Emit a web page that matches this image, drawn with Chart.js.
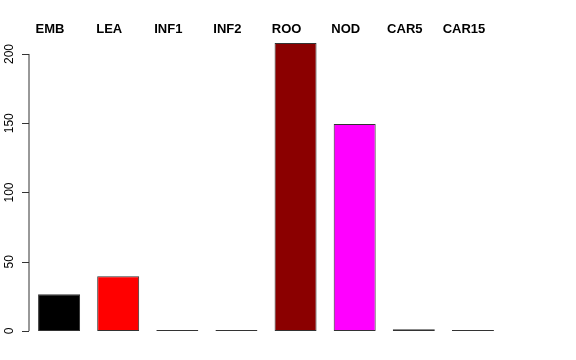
<!DOCTYPE html>
<html>
<head>
<meta charset="utf-8">
<script src="https://cdn.jsdelivr.net/npm/chart.js@4"></script>
<style>
  html, body { margin: 0; padding: 0; background: #fff; }
  #wrap { width: 576px; height: 360px; }
</style>
</head>
<body>
<div id="wrap"><canvas id="barChart"></canvas></div>
<script>
const categories = ['EMB', 'LEA', 'INF1', 'INF2', 'ROO', 'NOD', 'CAR5', 'CAR15'];
const values = [26.5, 39.5, 0.8, 0.7, 208, 149.5, 1.2, 0.8];
const barColors = ['#000000', '#ff0000', '#2f4f2f', '#483d8b', '#8b0000', '#ff00ff', '#000000', '#1f2f1f'];
const yTicks = [0, 50, 100, 150, 200];

// R style axis: rotated tick labels on the left, category names above the bars
const rAxes = {
  id: 'rAxes',
  afterDraw(chart) {
    const ctx = chart.ctx;
    const x = chart.scales.x, y = chart.scales.y;
    const axisX = chart.chartArea.left - 0.5;
    ctx.save();
    ctx.strokeStyle = '#333';
    ctx.lineWidth = 1;
    ctx.beginPath();
    ctx.moveTo(axisX, y.getPixelForValue(yTicks[0]));
    ctx.lineTo(axisX, y.getPixelForValue(yTicks[yTicks.length - 1]));
    yTicks.forEach(t => {
      const py = Math.round(y.getPixelForValue(t)) + 0.5;
      ctx.moveTo(axisX, py);
      ctx.lineTo(axisX - 7, py);
    });
    ctx.stroke();
    ctx.fillStyle = '#000';
    ctx.font = '12px "Liberation Sans", Arial, sans-serif';
    ctx.textAlign = 'center';
    ctx.textBaseline = 'middle';
    yTicks.forEach(t => {
      ctx.save();
      ctx.translate(10, y.getPixelForValue(t));
      ctx.rotate(-Math.PI / 2);
      ctx.fillText(String(t), 0, 0);
      ctx.restore();
    });
    // names sit a little left of the bar centres, as in the original
    ctx.font = 'bold 13px "Liberation Sans", Arial, sans-serif';
    categories.forEach((c, i) => {
      ctx.fillText(c, x.getPixelForValue(i) - 9, 29.5);
    });
    ctx.restore();
  }
};

new Chart(document.getElementById('barChart'), {
  type: 'bar',
  data: {
    labels: categories,
    datasets: [{
      data: values,
      backgroundColor: barColors,
      borderColor: '#333',
      borderWidth: 1,
      borderSkipped: false,
      barPercentage: 0.71,
      categoryPercentage: 1
    }]
  },
  options: {
    responsive: true,
    maintainAspectRatio: false,
    animation: false,
    layout: { padding: { left: 29.5, right: 73.5, top: 31.4, bottom: 17.5 } },
    plugins: { legend: { display: false }, tooltip: { enabled: false } },
    scales: {
      x: { display: false, offset: true },
      y: { display: false, min: -8.3, max: 216.3 }
    }
  },
  plugins: [rAxes]
});
</script>
</body>
</html>
